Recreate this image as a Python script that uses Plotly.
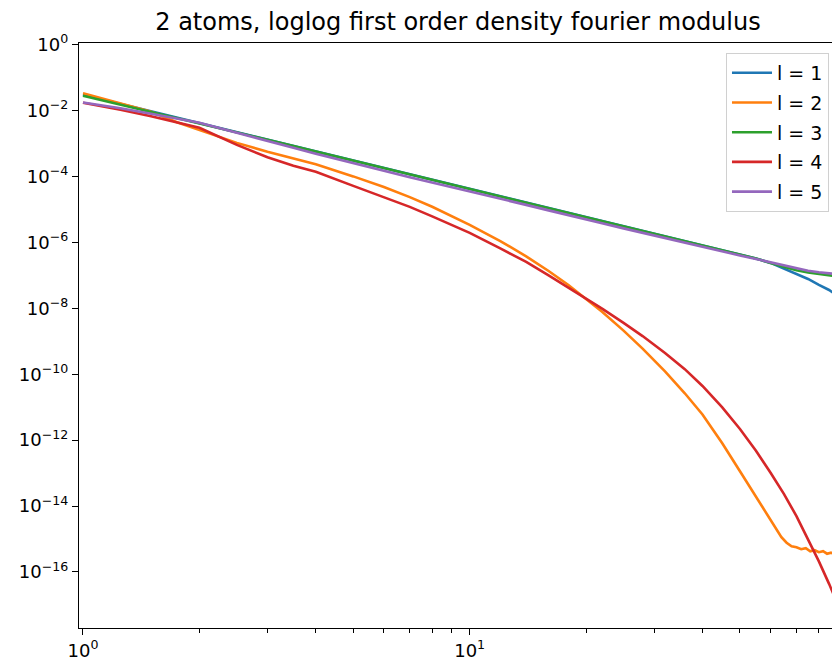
import plotly.graph_objects as go

# Wave-number grid shared by the smooth curves
k = [1, 1.25, 1.5, 1.75, 2, 2.5, 3, 3.5, 4, 5, 6, 7, 8, 10, 12, 14, 16, 18, 20,
     22, 25, 28, 32, 36, 40, 45, 50, 55, 60, 65, 70, 75, 80, 85, 88]

mod_l1 = [3.03e-2, 1.60e-2, 9.55e-3, 6.15e-3, 4.19e-3, 2.22e-3, 1.32e-3, 8.49e-4,
          5.78e-4, 3.06e-4, 1.81e-4, 1.17e-4, 7.98e-5, 4.22e-5, 2.52e-5, 1.62e-5,
          1.11e-5, 7.89e-6, 5.83e-6, 4.48e-6, 3.09e-6, 2.24e-6, 1.53e-6, 1.10e-6,
          8.12e-7, 5.81e-7, 4.27e-7, 3.27e-7, 2.39e-7, 1.62e-7, 1.15e-7, 7.80e-8,
          5.13e-8, 3.61e-8, 2.73e-8]

mod_l3 = [2.82e-2, 1.52e-2, 9.40e-3, 6.10e-3, 4.15e-3, 2.20e-3, 1.31e-3, 8.42e-4,
          5.74e-4, 3.04e-4, 1.80e-4, 1.16e-4, 7.93e-5, 4.19e-5, 2.50e-5, 1.61e-5,
          1.10e-5, 7.84e-6, 5.79e-6, 4.45e-6, 3.07e-6, 2.23e-6, 1.52e-6, 1.09e-6,
          8.07e-7, 5.78e-7, 4.24e-7, 3.25e-7, 2.39e-7, 1.80e-7, 1.43e-7, 1.23e-7,
          1.11e-7, 1.01e-7, 9.62e-8]

mod_l4 = [1.73e-2, 1.06e-2, 6.73e-3, 4.43e-3, 3.01e-3, 9.16e-4, 3.83e-4, 2.11e-4,
          1.39e-4, 5.21e-5, 2.41e-5, 1.20e-5, 6.17e-6, 1.95e-6, 6.58e-7, 2.56e-7,
          9.95e-8, 4.31e-8, 2.00e-8, 9.84e-9, 3.64e-9, 1.44e-9, 4.44e-10, 1.43e-10,
          4.42e-11, 9.89e-12, 2.18e-12, 4.74e-13, 1.03e-13, 2.30e-14, 4.96e-15,
          1.02e-15, 2.09e-16, 4.36e-17, 1.68e-17]

mod_l5 = [1.77e-2, 1.18e-2, 8.02e-3, 5.73e-3, 4.27e-3, 2.12e-3, 1.17e-3, 7.43e-4,
          4.95e-4, 2.51e-4, 1.49e-4, 9.57e-5, 6.65e-5, 3.55e-5, 2.10e-5, 1.38e-5,
          9.39e-6, 6.62e-6, 5.00e-6, 3.84e-6, 2.67e-6, 1.95e-6, 1.34e-6, 9.79e-7,
          7.31e-7, 5.33e-7, 4.04e-7, 3.16e-7, 2.51e-7, 1.98e-7, 1.59e-7, 1.38e-7,
          1.24e-7, 1.16e-7, 1.11e-7]

# l = 2 falls onto a noisy numerical floor, so its tail is sampled more finely
k_l2 = [1, 1.25, 1.5, 1.75, 2, 2.5, 3, 3.5, 4, 5, 6, 7, 8, 10, 12, 14, 16, 18, 20,
        22, 25, 28, 32, 36, 40, 45, 50, 55, 60, 62, 64, 66, 68, 70, 72, 74, 76,
        78, 80, 82, 84, 86, 88]
mod_l2 = [3.36e-2, 1.67e-2, 9.22e-3, 4.43e-3, 2.62e-3, 1.05e-3, 5.62e-4, 3.44e-4,
          2.34e-4, 1.01e-4, 4.79e-5, 2.37e-5, 1.21e-5, 3.43e-6, 1.10e-6, 3.79e-7,
          1.36e-7, 5.09e-8, 1.98e-8, 7.92e-9, 2.11e-9, 6.00e-10, 1.22e-10, 2.65e-11,
          6.01e-12, 8.07e-13, 1.14e-13, 1.90e-14, 3.91e-15, 1.99e-15, 1.14e-15,
          7.73e-16, 6.04e-16, 5.64e-16, 4.90e-16, 5.26e-16, 4.26e-16, 4.57e-16,
          3.97e-16, 4.26e-16, 3.58e-16, 3.84e-16, 3.45e-16]

labels = ["l = 1", "l = 2", "l = 3", "l = 4", "l = 5"]
colors = ["#1f77b4", "#ff7f0e", "#2ca02c", "#d62728", "#9467bd"]
series = [(k, mod_l1), (k_l2, mod_l2), (k, mod_l3), (k, mod_l4), (k, mod_l5)]

y_ticks = [10.0 ** -e for e in range(0, 17, 2)]
y_ticktext = ["10<sup>0</sup>"] + ["10<sup>\u2212%d</sup>" % e for e in range(2, 17, 2)]
x_ticks = [1, 10]
x_ticktext = ["10<sup>0</sup>", "10<sup>1</sup>"]
x_minor = [2, 3, 4, 5, 6, 7, 8, 9, 20, 30, 40, 50, 60, 70, 80, 90]

FONT = "DejaVu Sans, sans-serif"

fig = go.Figure()
for (xs, ys), name, c in zip(series, labels, colors):
    fig.add_trace(go.Scatter(x=xs, y=ys, mode="lines", name=name, legendgroup=name,
                             line=dict(color=c, width=2.6)))

fig.update_layout(
    width=832, height=666,
    margin=dict(l=79, r=0, t=43.3, b=38.3, pad=0),
    paper_bgcolor="white", plot_bgcolor="white",
    font=dict(family=FONT, size=18, color="black"),
    title=dict(text="2 atoms, loglog first order density fourier modulus",
               x=458 / 832, xanchor="center", xref="container",
               y=1 - 22 / 666, yanchor="middle", yref="container",
               font=dict(family=FONT, size=24, color="black")),
    showlegend=True,
    legend=dict(x=0.996, xanchor="right", y=0.983, yanchor="top",
                bgcolor="rgba(255,255,255,0.8)", bordercolor="#d0d0d0",
                borderwidth=1, itemwidth=40, tracegroupgap=2,
                font=dict(family=FONT, size=19, color="black")),
)

fig.update_xaxes(
    type="log", range=[-0.0103, 1.937],
    tickmode="array", tickvals=x_ticks, ticktext=x_ticktext,
    ticks="outside", ticklen=6, tickwidth=1.3, tickcolor="black",
    showline=True, linecolor="black", linewidth=1.3, mirror=True,
    showgrid=False, zeroline=False,
    minor=dict(tickmode="array", tickvals=x_minor, ticks="outside",
               ticklen=3.5, tickwidth=1, tickcolor="black", showgrid=False),
)
fig.update_yaxes(
    type="log", range=[-17.70, 0.052],
    tickmode="array", tickvals=y_ticks, ticktext=y_ticktext,
    ticks="outside", ticklen=6, tickwidth=1.3, tickcolor="black",
    showline=True, linecolor="black", linewidth=1.3, mirror=False,
    showgrid=False, zeroline=False,
)

fig.write_html("out.html", config={"displayModeBar": False})
